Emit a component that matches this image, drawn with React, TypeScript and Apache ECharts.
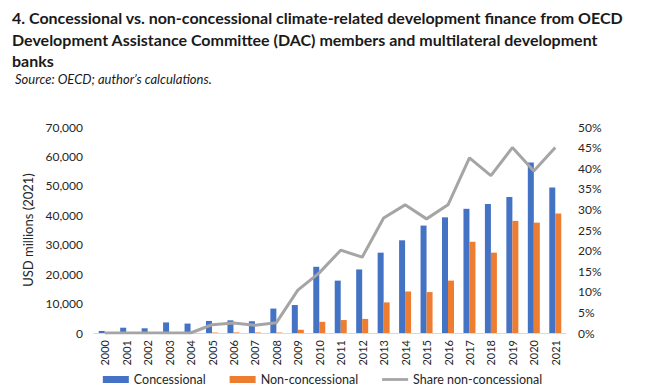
import React, { useEffect, useRef } from "react";
import * as echarts from "echarts";

const years = ["2000","2001","2002","2003","2004","2005","2006","2007","2008","2009","2010","2011","2012","2013","2014","2015","2016","2017","2018","2019","2020","2021"];
const concessional = [700,1800,1600,3600,3200,4100,4300,4000,8300,9500,22500,17800,21600,27300,31500,36500,39300,42200,43800,46200,57900,49400];
const nonConcessional = [0,0,0,0,0,150,200,150,150,1100,3800,4400,4800,10400,14100,13900,17800,31000,27300,38100,37500,40600];
const shareNonConcessional = [0,0,0,0,0,2.0,2.4,1.9,2.5,10.4,14.6,20.1,18.4,27.9,31.1,27.7,31.1,42.5,38.2,45.0,39.3,45.0];

const titleText = "4. Concessional vs. non-concessional climate-related development finance from OECD\nDevelopment Assistance Committee (DAC) members and multilateral development\nbanks";
const sourceText = "Source: OECD; author\u2019s calculations.";

const FONT = "Lato, 'Open Sans', sans-serif";

export default function App() {
  const ref = useRef<HTMLDivElement>(null);
  useEffect(() => {
    if (!ref.current) return;
    const chart = echarts.init(ref.current, null, { renderer: "svg" });
    chart.setOption({
      animation: false,
      backgroundColor: "#ffffff",
      textStyle: { fontFamily: FONT },
      title: [
        {
          text: titleText,
          left: 12,
          top: 7,
          padding: 0,
          textStyle: { fontFamily: FONT, fontWeight: "bold", fontSize: 16, lineHeight: 21.5, color: "#1a1a1a" },
        },
        {
          text: sourceText,
          left: 15,
          top: 72,
          padding: 0,
          textStyle: { fontFamily: FONT, fontStyle: "italic", fontWeight: "normal", fontSize: 13, color: "#1a1a1a" },
        },
      ],
      legend: {
        top: 368,
        left: "center",
        itemGap: 24,
        itemWidth: 26,
        itemHeight: 7,
        textStyle: { fontFamily: FONT, fontSize: 12.5, color: "#262626" },
        data: [
          { name: "Concessional", icon: "rect" },
          { name: "Non-concessional", icon: "rect" },
          { name: "Share non-concessional", icon: "path://M0,0H28V3H0Z" },
        ],
      },
      grid: { left: 94, right: 79, top: 127, bottom: 59, containLabel: false },
      xAxis: {
        type: "category",
        data: years,
        boundaryGap: true,
        axisLine: { lineStyle: { color: "#D9D9D9", width: 1 } },
        axisTick: { show: false },
        axisLabel: { rotate: 90, color: "#262626", fontSize: 11, fontFamily: FONT, margin: 7, interval: 0 },
      },
      yAxis: [
        {
          type: "value",
          min: 0,
          max: 70000,
          interval: 10000,
          name: "USD millions (2021)",
          nameLocation: "middle",
          nameGap: 38,
          nameTextStyle: { fontFamily: FONT, fontSize: 13, color: "#262626" },
          splitLine: { show: false },
          axisLine: { show: false },
          axisTick: { show: false },
          axisLabel: {
            color: "#262626",
            fontSize: 12,
            fontFamily: FONT,
            margin: 11,
            formatter: (v: number) => v.toLocaleString("en-US"),
          },
        },
        {
          type: "value",
          min: 0,
          max: 50,
          interval: 5,
          position: "right",
          splitLine: { show: false },
          axisLine: { show: false },
          axisTick: { show: false },
          axisLabel: { color: "#262626", fontSize: 12, fontFamily: FONT, margin: 12, formatter: "{value}%" },
        },
      ],
      series: [
        {
          name: "Concessional",
          type: "bar",
          data: concessional,
          barWidth: 6,
          barGap: "0%",
          itemStyle: { color: "#4472C4" },
        },
        {
          name: "Non-concessional",
          type: "bar",
          data: nonConcessional,
          barWidth: 6,
          barGap: "0%",
          itemStyle: { color: "#ED7D31" },
        },
        {
          name: "Share non-concessional",
          type: "line",
          yAxisIndex: 1,
          data: shareNonConcessional,
          symbol: "none",
          lineStyle: { color: "#A5A5A5", width: 3 },
          itemStyle: { color: "#A5A5A5" },
        },
      ],
    });
    return () => chart.dispose();
  }, []);
  return <div ref={ref} style={{ position: "absolute", left: 0, top: 0, width: 645, height: 392 }} />;
}
